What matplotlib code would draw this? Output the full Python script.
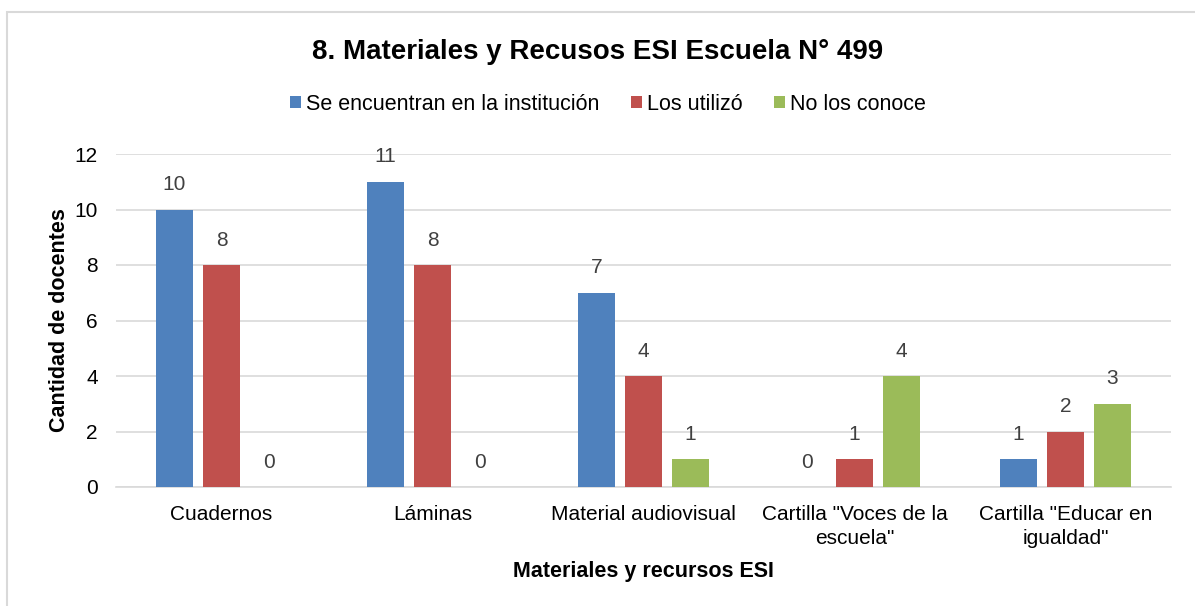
import numpy as np
import matplotlib
matplotlib.use('Agg')
import matplotlib.pyplot as plt
from matplotlib.patches import Rectangle

plt.rcParams['font.family'] = ['Liberation Sans', 'DejaVu Sans']

# Data
categories = ['Cuadernos', 'Láminas', 'Material audiovisual',
              'Cartilla "Voces de la\nescuela"', 'Cartilla "Educar en\nigualdad"']
series_names = ['Se encuentran en la institución', 'Los utilizó', 'No los conoce']
encuentran = [10, 11, 7, 0, 1]
utilizo = [8, 8, 4, 1, 2]
no_conoce = [0, 0, 1, 4, 3]
colors = ['#4F81BD', '#C0504D', '#9BBB59']
yticks = [0, 2, 4, 6, 8, 10, 12]

fig = plt.figure(figsize=(11.95, 6.06), dpi=100)
ax = fig.add_axes([116 / 1195, 119 / 606, (1171 - 116) / 1195, (487 - 154) / 606])

# light frame around the chart area
fig.patches.append(Rectangle((7 / 1195, -0.1), 1.2, (606 - 12) / 606 + 0.1,
                             transform=fig.transFigure, fill=False,
                             edgecolor='#D9D9D9', linewidth=1.5))

x = np.arange(len(categories))
step = 0.223
width = 0.175
for i, (vals, name, c) in enumerate(zip([encuentran, utilizo, no_conoce], series_names, colors)):
    bars = ax.bar(x + (i - 1) * step, vals, width, color=c, label=name, zorder=3)
    for b, v in zip(bars, vals):
        ax.text(b.get_x() + b.get_width() / 2, v + 0.55, str(v), ha='center', va='bottom',
                fontsize=15, color='#404040')

ax.set_xlim(-0.5, len(categories) - 0.5)
ax.set_ylim(0, 12)
ax.set_yticks(yticks)
ax.grid(axis='y', color='#D9D9D9', linewidth=1.2, zorder=0)
for s in ['top', 'right', 'left']:
    ax.spines[s].set_visible(False)
ax.spines['bottom'].set_color('#D9D9D9')
ax.spines['bottom'].set_linewidth(1.2)
ax.tick_params(axis='both', length=0, labelsize=15, colors='black')
ax.tick_params(axis='x', pad=13)
ax.tick_params(axis='y', pad=13)
ax.set_xticks(x)
ax.set_xticklabels(categories, linespacing=1.35)

ax.set_ylabel('Cantidad de docentes', fontsize=15.5, fontweight='bold', labelpad=3)
ax.set_xlabel('Materiales y recursos ESI', fontsize=15.5, fontweight='bold', labelpad=9)

fig.text(0.5, 1 - 52 / 606, '8. Materiales y Recusos ESI Escuela N° 499', ha='center', va='center',
         fontsize=20, fontweight='bold')

fig.legend(loc='center', bbox_to_anchor=(608 / 1195, 1 - 104 / 606), ncol=3, frameon=False,
           fontsize=15.5, handlelength=0.5, handleheight=0.5, handletextpad=0.25,
           columnspacing=1.45)

fig.savefig('out.png', dpi=100)
